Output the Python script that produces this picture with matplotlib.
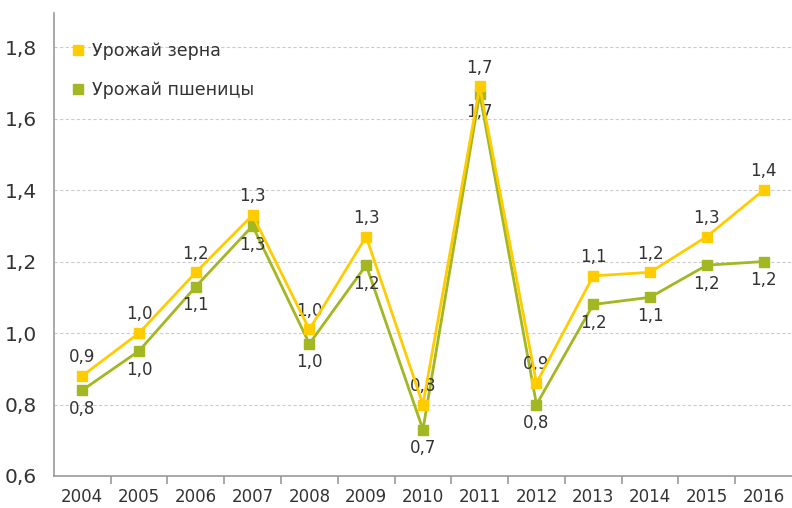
import matplotlib.pyplot as plt
import numpy as np

years = ['2004', '2005', '2006', '2007', '2008', '2009', '2010',
         '2011', '2012', '2013', '2014', '2015', '2016']
# Урожай зерна
grain = [0.88, 1.00, 1.17, 1.33, 1.01, 1.27, 0.80, 1.69, 0.86, 1.16, 1.17, 1.27, 1.40]
grain_labels = ['0,9', '1,0', '1,2', '1,3', '1,0', '1,3', '0,8', '1,7', '0,9', '1,1', '1,2', '1,3', '1,4']
# Урожай пшеницы
wheat = [0.84, 0.95, 1.13, 1.30, 0.97, 1.19, 0.73, 1.67, 0.80, 1.08, 1.10, 1.19, 1.20]
wheat_labels = ['0,8', '1,0', '1,1', '1,3', '1,0', '1,2', '0,7', '1,7', '0,8', '1,2', '1,1', '1,2', '1,2']

yellow = '#FFCC00'
green = '#A2B721'
txt = '#333333'

fig = plt.figure(figsize=(7.92, 5.08), dpi=100)
ax = fig.add_axes([0.068, 0.063, 0.932, 0.911])

x = np.arange(len(years))
ax.plot(x, wheat, color=green, lw=2, marker='s', ms=7.5, label='Урожай пшеницы', zorder=3)
ax.plot(x, grain, color=yellow, lw=2, marker='s', ms=7.5, label='Урожай зерна', zorder=4)

for i in range(len(x)):
    ax.annotate(grain_labels[i], (x[i], grain[i]), xytext=(0, 7), textcoords='offset points',
                ha='center', va='bottom', fontsize=12, color=txt)
    ax.annotate(wheat_labels[i], (x[i], wheat[i]), xytext=(0, -7), textcoords='offset points',
                ha='center', va='top', fontsize=12, color=txt)

ax.set_xlim(-0.5, len(years) - 0.5)
ax.set_ylim(0.6, 1.895)
ax.set_yticks([0.6, 0.8, 1.0, 1.2, 1.4, 1.6, 1.8])
ax.set_yticklabels(['0,6', '0,8', '1,0', '1,2', '1,4', '1,6', '1,8'], fontsize=14.5, color=txt)
ax.set_xticks(x)
ax.set_xticklabels(years, fontsize=12, color=txt)
ax.set_xticks(np.arange(0.5, len(years) - 0.5), minor=True)
ax.tick_params(axis='x', which='major', length=0, pad=9)
ax.tick_params(axis='x', which='minor', length=6, color='#999999', width=1.2)
ax.tick_params(axis='y', length=0, pad=12)

ax.grid(axis='y', color='#cccccc', linestyle=(0, (3, 2)), linewidth=0.8)
ax.set_axisbelow(True)
for s in ['top', 'right']:
    ax.spines[s].set_visible(False)
for s in ['left', 'bottom']:
    ax.spines[s].set_color('#999999')
    ax.spines[s].set_linewidth(1.2)

leg_handles = [plt.Line2D([], [], color=yellow, marker='s', ls='none', ms=7.5),
               plt.Line2D([], [], color=green, marker='s', ls='none', ms=7.5)]
leg = ax.legend(leg_handles, ['Урожай зерна', 'Урожай пшеницы'], loc='upper left',
                bbox_to_anchor=(0.0, 0.975), frameon=False, fontsize=12.5,
                handlelength=0.8, handletextpad=0.4, labelspacing=1.2, borderaxespad=0.6)
for t in leg.get_texts():
    t.set_color(txt)

fig.savefig('out.png', dpi=100, facecolor='white')
